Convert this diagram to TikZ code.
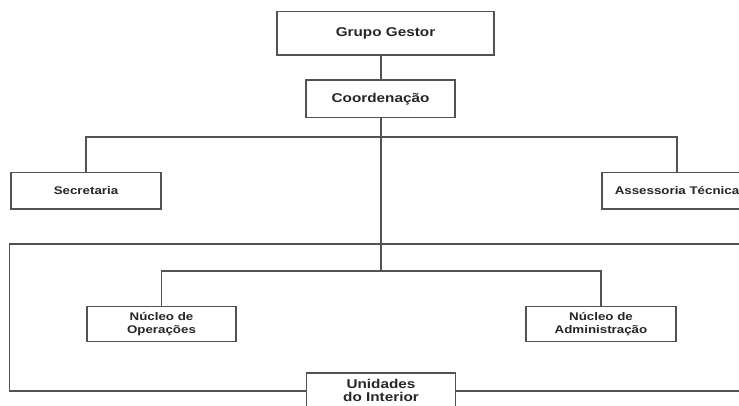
\documentclass[tikz,border=0pt]{standalone}
\usepackage{fontspec}
\newfontfamily\lab{Liberation Sans}[FakeStretch=1.2]
\begin{document}
\begin{tikzpicture}[x=1pt,y=-1pt,
  ln/.style={draw=black!68,line width=1.3pt},
  box/.style={ln,rectangle,fill=white,inner sep=0pt,align=center,text=black!85},
  big/.style={box,font=\lab\bfseries\fontsize{12.75}{13}\selectfont},
  small/.style={box,font=\lab\bfseries\fontsize{11.1}{12.3}\selectfont}]
\useasboundingbox (0,0) rectangle (739,405);
\clip (0,0) rectangle (739,405);
\fill[white] (0,0) rectangle (739,405);
% outer frame
\coordinate (fr) at (760,244);
\draw[ln] (fr) -- (9.5,244) -- (9.5,391) -- (760,391);
% nodes
\node[big,minimum width=217pt,minimum height=43.5pt] (gg) at (385.5,33.25) {Grupo Gestor};
\node[big,minimum width=149pt,minimum height=37.5pt] (co) at (380.5,98.75) {Coordenação};
\node[small,minimum width=150pt,minimum height=36.5pt] (se) at (86,190.8) {Secretaria};
\node[small,minimum width=150pt,minimum height=36.5pt] (as) at (677,190.8) {Assessoria Técnica};
\node[small,minimum width=149pt,minimum height=35pt] (no) at (161.5,324.2) {Núcleo de\\Operações};
\node[small,minimum width=150pt,minimum height=35pt] (na) at (601,324.2) {Núcleo de\\Administração};
\node[big,minimum width=149.5pt,minimum height=35pt] (un) at (381,390.5) {Unidades\\do Interior};
% connectors
\coordinate (cx) at (381,0);
\coordinate (h1) at (381,137);
\coordinate (h2) at (381,271);
\draw[ln] (cx |- gg.south) -- (cx |- co.north);
\draw[ln] (cx |- co.south) -- (h2);
\draw[ln] (se.north) -- (se.north |- h1) -- (as.north |- h1) -- (as.north);
\draw[ln] (no.north) -- (no.north |- h2) -- (na.north |- h2) -- (na.north);
\end{tikzpicture}
\end{document}
